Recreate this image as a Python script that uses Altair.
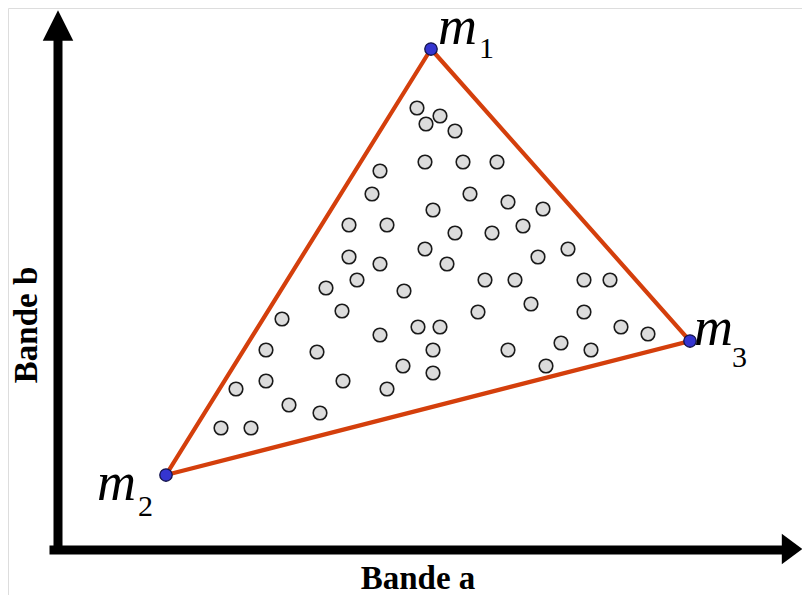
import altair as alt
import pandas as pd

# Data (pixel-like coordinates of the reference picture)
pts_x = [417, 440, 426, 455, 380, 425, 463, 497, 372, 470, 508, 433, 543,
         349, 387, 455, 492, 523, 425, 568, 349, 380, 447, 538, 357, 326,
         485, 515, 584, 610, 404, 342, 478, 531, 282, 418, 440, 584, 380,
         621, 648, 266, 317, 433, 508, 561, 591, 403, 546, 236, 266, 343,
         387, 433, 289, 320, 221, 251]
pts_y = [108, 116, 124, 131, 171, 162, 162, 162, 194, 194, 202, 210, 209,
         225, 225, 233, 233, 226, 249, 249, 257, 264, 264, 257, 280, 288,
         280, 280, 280, 280, 291, 311, 312, 304, 319, 327, 327, 312, 335,
         327, 334, 350, 352, 350, 350, 343, 350, 366, 366, 389, 381, 381,
         389, 373, 405, 413, 428, 428]

vert_names = ["m1", "m2", "m3"]
vert_x = [431, 166, 690]
vert_y = [49, 475, 341]

label_main = ["m", "m", "m"]
label_sub = ["1", "2", "3"]
label_main_x = [438, 97, 694]
label_main_y = [44, 500, 345]
label_sub_x = [479, 138, 732]
label_sub_y = [58, 516, 367]

W, H = 794, 587
xs = alt.Scale(domain=[8, 802], nice=False, zero=False)
ys = alt.Scale(domain=[595, 8], nice=False, zero=False)
X = lambda f: alt.X(f, type="quantitative", scale=xs, axis=None)
Y = lambda f: alt.Y(f, type="quantitative", scale=ys, axis=None)

pts = pd.DataFrame({"x": pts_x, "y": pts_y})
tri = pd.DataFrame({"x": vert_x + [vert_x[0]], "y": vert_y + [vert_y[0]],
                    "o": [0, 1, 2, 3]})
verts = pd.DataFrame({"x": vert_x, "y": vert_y, "name": vert_names})
lab_m = pd.DataFrame({"x": label_main_x, "y": label_main_y, "t": label_main})
lab_s = pd.DataFrame({"x": label_sub_x, "y": label_sub_y, "t": label_sub})

# Axis arrows
vshaft = pd.DataFrame({"x": [58], "y": [554], "y2": [36]})
hshaft = pd.DataFrame({"y": [550], "x": [54], "x2": [785]})
vhead = pd.DataFrame({"x": [58], "y": [25.5]})
hhead = pd.DataFrame({"x": [792], "y": [549]})

black = "#000000"
vs = alt.Chart(vshaft).mark_rule(color=black, strokeWidth=9, strokeCap="butt").encode(
    x=X("x"), y=Y("y"), y2="y2")
hs = alt.Chart(hshaft).mark_rule(color=black, strokeWidth=9, strokeCap="square").encode(
    y=Y("y"), x=X("x"), x2="x2")
vh = alt.Chart(vhead).mark_point(
    shape="M -1 1 L 0 -1 L 1 1 Z", size=930, filled=True, color=black, opacity=1
).encode(x=X("x"), y=Y("y"))
hh = alt.Chart(hhead).mark_point(
    shape="M -0.67 -1 L 0.67 0 L -0.67 1 Z", size=930, filled=True, color=black, opacity=1
).encode(x=X("x"), y=Y("y"))

tri_line = alt.Chart(tri).mark_line(color="#D43F0C", strokeWidth=4.2).encode(
    x=X("x"), y=Y("y"), order="o:Q")

circles = alt.Chart(pts).mark_point(
    shape="circle", size=185, filled=False, fill="#DCDCDC", fillOpacity=1,
    stroke="#1a1a1a", strokeWidth=1.6, opacity=1
).encode(x=X("x"), y=Y("y"))

vpts = alt.Chart(verts).mark_point(
    shape="circle", size=155, fill="#3535D0", fillOpacity=1, filled=False,
    stroke="#14144a", strokeWidth=1.3, opacity=1
).encode(x=X("x"), y=Y("y"))

tm = alt.Chart(lab_m).mark_text(
    font="Liberation Serif", fontStyle="italic", fontSize=54, align="left",
    baseline="alphabetic", color=black
).encode(x=X("x"), y=Y("y"), text="t:N")
ts = alt.Chart(lab_s).mark_text(
    font="Liberation Serif", fontSize=30, align="left",
    baseline="alphabetic", color=black
).encode(x=X("x"), y=Y("y"), text="t:N")

title_a = alt.Chart(pd.DataFrame({"x": [418], "y": [589], "t": ["Bande a"]})).mark_text(
    font="Liberation Serif", fontWeight="bold", fontSize=33, align="center",
    baseline="alphabetic", color=black
).encode(x=X("x"), y=Y("y"), text="t:N")
title_b = alt.Chart(pd.DataFrame({"x": [37], "y": [325], "t": ["Bande b"]})).mark_text(
    font="Liberation Serif", fontWeight="bold", fontSize=33, align="center",
    baseline="alphabetic", angle=270, color=black
).encode(x=X("x"), y=Y("y"), text="t:N")

chart = alt.layer(
    vs, hs, vh, hh, tri_line, circles, vpts, tm, ts, title_a, title_b
).properties(
    width=W, height=H, padding=0, autosize=alt.AutoSizeParams(type="none")
).configure_view(stroke="transparent", strokeWidth=0).configure(background="white")

chart.save("out.html", embed_options={"renderer": "svg", "actions": False})
